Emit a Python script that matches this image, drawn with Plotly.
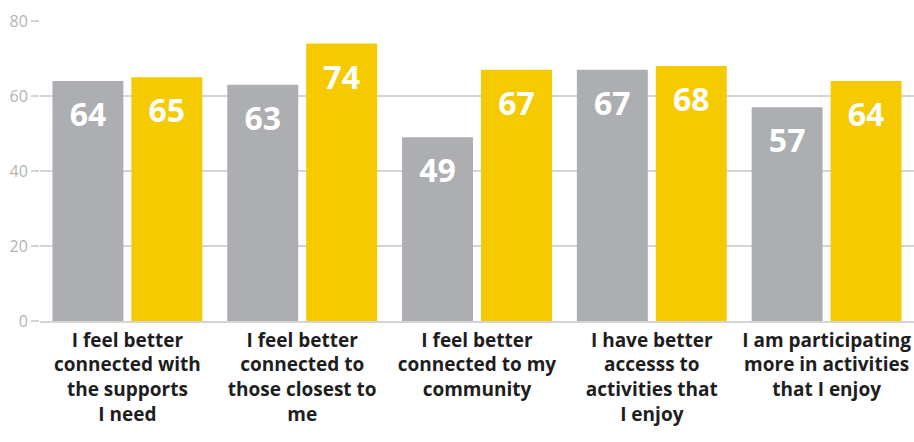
import plotly.graph_objects as go

categories = [
    "I feel better<br>connected with<br>the supports<br>I need",
    "I feel better<br>connected to<br>those closest to<br>me",
    "I feel better<br>connected to my<br>community",
    "I have better<br>accesss to<br>activities that<br>I enjoy",
    "I am participating<br>more in activities<br>that I enjoy",
]
series_a = [64, 63, 49, 67, 57]
series_b = [65, 74, 67, 68, 64]
y_ticks = [0, 20, 40, 60, 80]

GRAY = "#ADAEB1"
YELLOW = "#F5CA00"
FONT = "Open Sans"

fig = go.Figure()
for i, (vals, col) in enumerate([(series_a, GRAY), (series_b, YELLOW)]):
    fig.add_trace(go.Bar(
        x=categories, y=vals, marker=dict(color=col, line=dict(width=0)),
        offsetgroup=str(i), showlegend=False, hoverinfo="skip",
    ))
for i, vals in enumerate([series_a, series_b]):
    fig.add_trace(go.Scatter(
        x=categories, y=vals, mode="markers+text", offsetgroup=str(i),
        marker=dict(size=32, opacity=0),
        text=[str(v) for v in vals], textposition="bottom center",
        textfont=dict(family=FONT, size=32, color="white", weight=700),
        cliponaxis=False, showlegend=False, hoverinfo="skip",
    ))

fig.update_layout(
    width=914, height=442,
    margin=dict(l=40, r=0, t=21, b=121, autoexpand=False),
    paper_bgcolor="white", plot_bgcolor="white",
    barmode="group", bargap=0.097, bargroupgap=0.101,
    scattermode="group", scattergap=0.097,
    font=dict(family=FONT),
)
fig.update_yaxes(
    range=[0, 80], tickvals=y_ticks, showgrid=True, gridcolor="#D4D4D4", gridwidth=1.5,
    zeroline=False, showline=False, automargin=False,
    ticks="outside", ticklen=8, tickcolor="#D4D4D4", tickwidth=1.5,
    tickfont=dict(family=FONT, size=16, color="#B3B3B3"),
)
fig.update_xaxes(
    showline=True, linecolor="#D4D4D4", linewidth=1.5, ticks="", automargin=False,
    ticklabelstandoff=1,
    tickfont=dict(family=FONT, size=19, color="#1E1E1E", weight=700),
)

fig.write_html("out.html", config={"displayModeBar": False},
               post_script="document.body.style.margin='0';")
